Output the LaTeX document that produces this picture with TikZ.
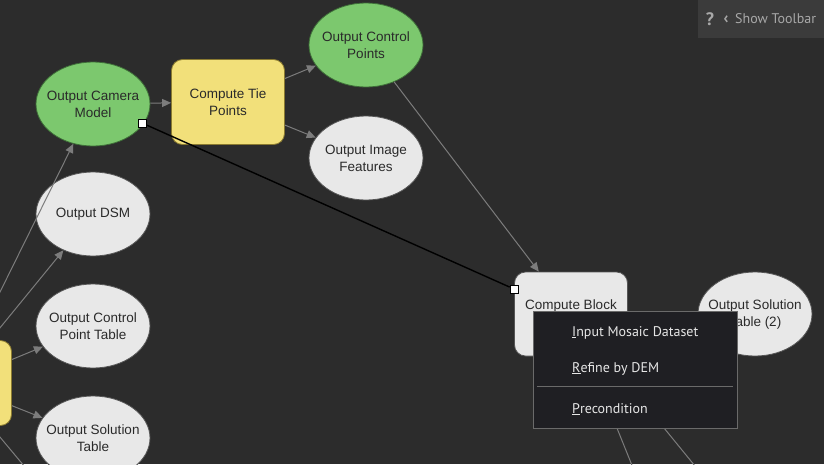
\documentclass[tikz,border=0pt]{standalone}
\usepackage{fontspec}
\setmainfont{Liberation Sans}
\newfontfamily\menufont{PT Sans}
\usetikzlibrary{arrows.meta,shapes.geometric}

\definecolor{canvas}{HTML}{2C2C2C}
\definecolor{modelgreen}{HTML}{7CC86E}
\definecolor{greenedge}{HTML}{3E6E38}
\definecolor{modelyellow}{HTML}{F2E07A}
\definecolor{yellowedge}{HTML}{8A7A30}
\definecolor{datagray}{HTML}{E8E8E8}
\definecolor{grayedge}{HTML}{555555}
\definecolor{nodetext}{HTML}{2A2A2A}
\definecolor{flowgray}{HTML}{7C7C7C}
\definecolor{menubg}{HTML}{1F1F23}
\definecolor{menuedge}{HTML}{6A6A6A}
\definecolor{menutext}{HTML}{E6E6E6}
\definecolor{barbg}{HTML}{3B3B3B}
\definecolor{bartext}{HTML}{A8A8A8}

\tikzset{
  modeltext/.style={text=nodetext, align=center, font=\fontsize{13.5}{17}\selectfont},
  greenell/.style={ellipse, draw=greenedge, line width=0.8pt, fill=modelgreen, minimum width=114pt, minimum height=84pt, inner sep=-8pt, modeltext},
  grayell/.style={ellipse, draw=grayedge, line width=0.8pt, fill=datagray, minimum width=114pt, minimum height=84pt, inner sep=-8pt, modeltext},
  yellowbox/.style={rectangle, rounded corners=11pt, draw=yellowedge, line width=0.8pt, fill=modelyellow, minimum width=113pt, minimum height=85pt, modeltext},
  graybox/.style={rectangle, rounded corners=11pt, draw=grayedge, line width=0.8pt, fill=datagray, minimum width=113pt, minimum height=84pt, modeltext},
  flow/.style={draw=flowgray, line width=1pt, -{Triangle[length=9pt,width=8pt]}},
  handle/.style={rectangle, draw=black, line width=0.6pt, fill=white, minimum size=8pt, inner sep=0pt},
  menuitem/.style={anchor=base west, text=menutext, font=\menufont\fontsize{14}{16}\selectfont, inner sep=0pt}
}

\begin{document}
\begin{tikzpicture}[x=1pt, y=-1pt]
			%%%%% START %%%%%
			\useasboundingbox (0, 0) rectangle (824, 464);
			\clip (0, 0) rectangle (824, 464);
			\fill[canvas] (0, 0) rectangle (824, 464);
			
			% model elements
			\node[yellowbox] (leftbox) at (-45, 383) {};
			\node[greenell] (ocm) at (93, 104) {Output Camera\\Model};
			\node[yellowbox] (ctp) at (228, 102) {Compute Tie\\Points};
			\node[greenell] (ocp) at (366, 45) {Output Control\\Points};
			\node[grayell] (oif) at (366, 158) {Output Image\\Features};
			\node[grayell] (dsm) at (93, 214) {Output DSM};
			\node[grayell] (ocpt) at (93, 326) {Output Control\\Point Table};
			\node[grayell] (ost) at (93, 438) {Output Solution\\Table};
			\node[graybox] (cb) at (571, 314) {};
			\node[modeltext, anchor=base] (cbtext) at (571, 309) {Compute Block};
			\node[grayell] (ost2) at (755, 314) {Output Solution\\Table (2)};
			
			% off-screen targets
			\coordinate (below1) at (80, 533);
			\coordinate (below2) at (650, 510);
			\coordinate (below3) at (735, 515);
			
			% connectors
			\draw[flow] (leftbox) -- (ocm);
			\draw[flow] (leftbox) -- (dsm);
			\draw[flow] (leftbox) -- (ocpt);
			\draw[flow] (leftbox) -- (ost);
			\draw[flow] (leftbox) -- (below1);
			\draw[flow] (ocm) -- (ctp);
			\draw[flow] (ctp) -- (ocp);
			\draw[flow] (ctp) -- (oif);
			\draw[flow] (ocp) -- (cb);
			\draw[flow] (cb) -- (below2);
			\draw[flow] (cb) -- (below3);
			
			% dragged link
			\node[handle] (h1) at (142, 123) {};
			\node[handle] (h2) at (514, 289) {};
			\draw[black, line width=1.4pt] (h1) -- (h2);
			
			% context menu
			\node[rectangle, draw=menuedge, line width=1pt, fill=menubg, minimum width=204pt, minimum height=117pt, inner sep=0pt] (menu) at (635, 369.5) {};
			\node[menuitem] (imd) at (572, 336) {\underline{I}nput Mosaic Dataset};
			\node[menuitem] (rdem) at (572, 372) {\underline{R}efine by DEM};
			\node[menuitem] (prec) at (572, 413) {\underline{P}recondition};
			\draw[menuedge, line width=1pt] (537, 386) -- (733, 386);
			
			% toolbar tab
			\node[rectangle, fill=barbg, minimum width=128pt, minimum height=40pt, inner sep=0pt] (bar) at (762, 18) {};
			\node[text=bartext, font=\menufont\bfseries\fontsize{18}{18}\selectfont, anchor=base] (qmark) at (710, 25) {?};
			\node[text=bartext, font=\menufont\bfseries\fontsize{16}{16}\selectfont, anchor=base] (chev) at (726, 23) {‹};
			\node[text=bartext, font=\menufont\fontsize{14}{14}\selectfont, anchor=base west, inner sep=0pt] (showbar) at (735, 23) {Show Toolbar};
			%%%%% END %%%%%
\end{tikzpicture}
\end{document}
